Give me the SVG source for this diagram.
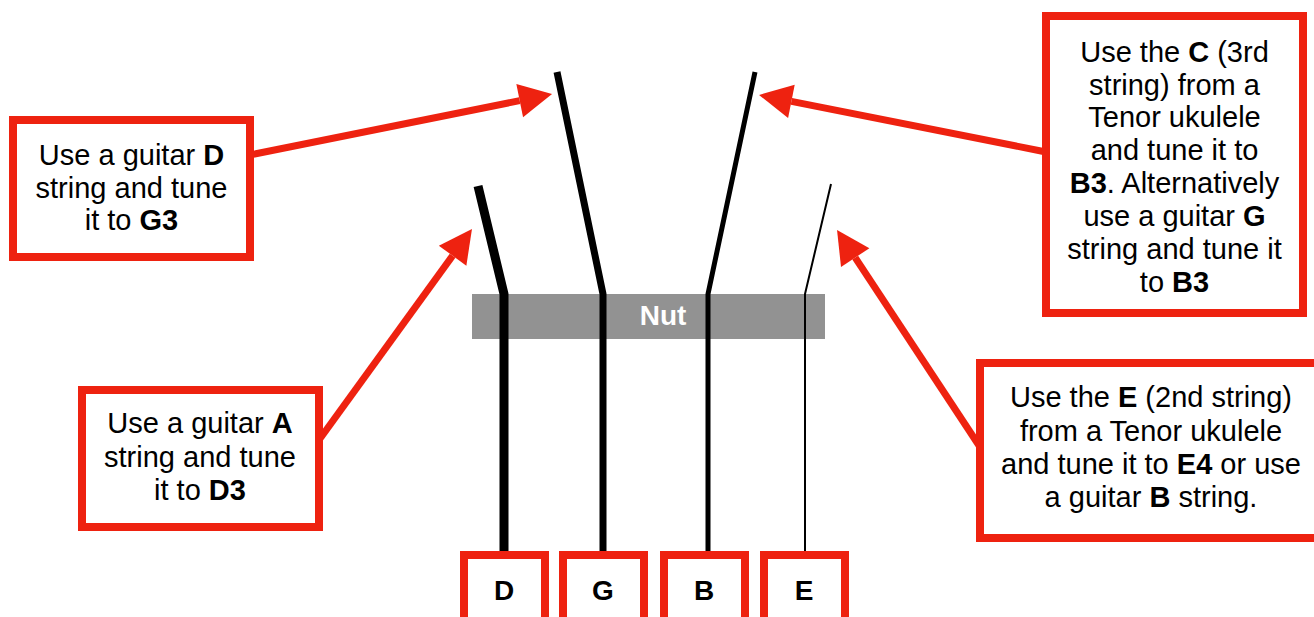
<svg xmlns="http://www.w3.org/2000/svg" width="1314" height="617" viewBox="0 0 1314 617">
<style>
.box{fill:#fff;stroke:#EE2210;stroke-width:8}
.t{font-family:"Liberation Sans",Arial,sans-serif;font-size:29px;fill:#000;text-anchor:middle}
.b{font-weight:bold}
.lbl{font-family:"Liberation Sans",Arial,sans-serif;font-size:28px;font-weight:bold;fill:#000;text-anchor:middle}
.arrow{stroke:#EE2210;stroke-width:7;fill:none;marker-end:url(#ah)}
.str{stroke:#000;fill:none;stroke-linejoin:bevel}
</style>
<defs>
<marker id="ah" markerUnits="userSpaceOnUse" markerWidth="36" markerHeight="38" viewBox="0 -19 36 38" refX="0" refY="0" orient="auto" overflow="visible">
<path d="M0,-17 L33,0 L0,17 Z" fill="#EE2210"/>
</marker>
</defs>
<rect width="1314" height="617" fill="#fff"/>

<g id="nut">
<rect x="472" y="294" width="353" height="45" fill="#929292"/>
<text x="663" y="325" class="lbl" fill="#fff" style="fill:#fff">Nut</text>
</g>

<g id="strings">
<polyline class="str" stroke-width="9" points="478,186 504,294 504,556"/>
<polyline class="str" stroke-width="7" points="557,72 603,294 603,556"/>
<polyline class="str" stroke-width="5" points="755,72 708,294 708,556"/>
<polyline class="str" stroke-width="2" points="831,184 805,294 805,556"/>
</g>

<g id="connectors">
<line class="arrow" x1="250" y1="155" x2="519.7" y2="100.6"/>
<line class="arrow" x1="319" y1="440" x2="452.6" y2="255.7"/>
<line class="arrow" x1="1046" y1="152" x2="791.4" y2="101.4"/>
<line class="arrow" x1="980" y1="447" x2="855.2" y2="257.6"/>
</g>

<g id="note-g3">
<rect class="box" x="13" y="120" width="237" height="137"/>
<text class="t" x="131.5" y="165">Use a guitar <tspan class="b">D</tspan></text>
<text class="t" x="131.5" y="198">string and tune</text>
<text class="t" x="131.5" y="230">it to <tspan class="b">G3</tspan></text>
</g>

<g id="note-d3">
<rect class="box" x="82" y="390" width="237" height="137"/>
<text class="t" x="200" y="433">Use a guitar <tspan class="b">A</tspan></text>
<text class="t" x="200" y="467">string and tune</text>
<text class="t" x="200" y="500">it to <tspan class="b">D3</tspan></text>
</g>

<g id="note-b3">
<rect class="box" x="1046" y="16" width="257" height="297"/>
<text class="t" x="1174.5" y="62">Use the <tspan class="b">C</tspan> (3rd</text>
<text class="t" x="1174.5" y="95">string) from a</text>
<text class="t" x="1174.5" y="127">Tenor ukulele</text>
<text class="t" x="1174.5" y="160">and tune it to</text>
<text class="t" x="1174.5" y="193"><tspan class="b">B3</tspan>. Alternatively</text>
<text class="t" x="1174.5" y="226">use a guitar <tspan class="b">G</tspan></text>
<text class="t" x="1174.5" y="259">string and tune it</text>
<text class="t" x="1174.5" y="292">to <tspan class="b">B3</tspan></text>
</g>

<g id="note-e4">
<rect class="box" x="980" y="363" width="345" height="175"/>
<text class="t" x="1151" y="407">Use the <tspan class="b">E</tspan> (2nd string)</text>
<text class="t" x="1151" y="441">from a Tenor ukulele</text>
<text class="t" x="1151" y="474">and tune it to <tspan class="b">E4</tspan> or use</text>
<text class="t" x="1151" y="507">a guitar <tspan class="b">B</tspan> string.</text>
</g>

<g id="label-d">
<rect class="box" x="464" y="555" width="81" height="80"/>
<text class="lbl" x="504" y="600">D</text>
</g>
<g id="label-g">
<rect class="box" x="563" y="555" width="81" height="80"/>
<text class="lbl" x="603" y="600">G</text>
</g>
<g id="label-b">
<rect class="box" x="664" y="555" width="81" height="80"/>
<text class="lbl" x="704" y="600">B</text>
</g>
<g id="label-e">
<rect class="box" x="764" y="555" width="81" height="80"/>
<text class="lbl" x="804" y="600">E</text>
</g>
</svg>
